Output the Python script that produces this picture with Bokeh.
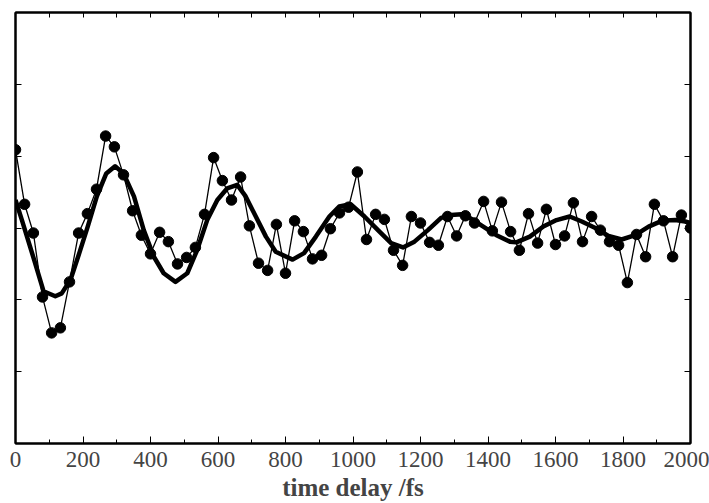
from bokeh.plotting import figure
from bokeh.models import LinearAxis, FixedTicker, Range1d
from bokeh.embed import file_html
from bokeh.resources import INLINE

# measured data points (time delay in fs, signal in arbitrary units)
t_data = [0, 27, 53, 80, 107, 133, 160, 187, 213, 240, 267, 293, 320, 347, 373, 400,
          427, 453, 480, 507, 533, 560, 587, 613, 640, 667, 693, 720, 747, 773, 800,
          827, 853, 880, 907, 933, 960, 987, 1013, 1040, 1067, 1093, 1120, 1147, 1173,
          1200, 1227, 1253, 1280, 1307, 1333, 1360, 1387, 1413, 1440, 1467, 1493, 1520,
          1547, 1573, 1600, 1627, 1653, 1680, 1707, 1733, 1760, 1787, 1813, 1840, 1867,
          1893, 1920, 1947, 1973, 2000]
s_data = [4.09, 3.33, 2.93, 2.04, 1.54, 1.61, 2.25, 2.93, 3.20, 3.54,
          4.28, 4.13, 3.74, 3.24, 2.90, 2.64, 2.94, 2.81, 2.50, 2.59,
          2.73, 3.19, 3.98, 3.66, 3.39, 3.71, 3.03, 2.51, 2.41, 3.05,
          2.37, 3.10, 2.95, 2.57, 2.62, 2.99, 3.21, 3.29, 3.78, 2.84,
          3.19, 3.12, 2.69, 2.48, 3.16, 3.07, 2.80, 2.76, 3.16, 2.89,
          3.17, 3.07, 3.37, 2.96, 3.36, 2.95, 2.69, 3.20, 2.79, 3.26,
          2.77, 2.89, 3.35, 2.81, 3.16, 2.97, 2.81, 2.76, 2.24, 2.91,
          2.60, 3.33, 3.10, 2.60, 3.18, 3.00]

# fitted curve
t_fit = [0, 19, 55, 83, 118, 137, 163, 189, 214, 241, 269, 295, 320, 351, 380, 410,
         439, 474, 509, 538, 568, 598, 627, 657, 682, 712, 742, 771, 821, 855, 890,
         930, 959, 993, 1034, 1074, 1113, 1148, 1182, 1222, 1261, 1291, 1321, 1346,
         1386, 1425, 1465, 1484, 1524, 1564, 1603, 1642, 1678, 1718, 1757, 1796, 1836,
         1876, 1915, 1955, 1984, 2000]
s_fit = [3.39, 3.11, 2.56, 2.12, 2.05, 2.09, 2.28, 2.65, 3.02, 3.44, 3.76, 3.86, 3.76,
         3.44, 2.97, 2.60, 2.37, 2.25, 2.37, 2.69, 3.11, 3.39, 3.55, 3.60, 3.44, 3.16,
         2.88, 2.67, 2.56, 2.65, 2.88, 3.16, 3.30, 3.33, 3.16, 2.97, 2.79, 2.73, 2.81,
         2.97, 3.14, 3.18, 3.19, 3.14, 3.02, 2.90, 2.81, 2.80, 2.88, 3.02, 3.11, 3.16,
         3.09, 3.00, 2.89, 2.84, 2.90, 3.02, 3.10, 3.11, 3.09, 3.07]

x_major = [0, 200, 400, 600, 800, 1000, 1200, 1400, 1600, 1800, 2000]
y_ticks = [0, 1, 2, 3, 4, 5, 6]
top_ticks = list(range(0, 2001, 100))

p = figure(width=709, height=503, output_backend="svg", toolbar_location=None,
           x_range=Range1d(0, 2000), y_range=Range1d(0, 6),
           x_axis_location=None, y_axis_location=None,
           min_border_left=15, min_border_right=19, min_border_top=12, min_border_bottom=59)
p.grid.visible = False
p.outline_line_color = "black"
p.outline_line_width = 2
p.background_fill_color = "white"
p.border_fill_color = "white"

serif = "Liberation Serif"

bottom = LinearAxis(ticker=FixedTicker(ticks=x_major, minor_ticks=top_ticks))
bottom.axis_label = "time delay /fs"
bottom.axis_label_text_font = serif
bottom.axis_label_text_font_style = "bold"
bottom.axis_label_text_font_size = "25px"
bottom.axis_label_standoff = 4
bottom.major_label_text_font = serif
bottom.major_label_text_font_size = "23px"
bottom.major_label_standoff = 8
bottom.major_tick_in = 7
bottom.major_tick_out = 0
bottom.minor_tick_in = 4
bottom.minor_tick_out = 0
bottom.axis_line_width = 2
p.add_layout(bottom, "below")

top = LinearAxis(ticker=FixedTicker(ticks=top_ticks))
top.major_label_text_font_size = "0px"
top.major_label_text_color = None
top.major_tick_in = 5
top.major_tick_out = 0
top.minor_tick_line_color = None
top.axis_line_width = 2
p.add_layout(top, "above")

for loc in ("left", "right"):
    ax = LinearAxis(ticker=FixedTicker(ticks=y_ticks))
    ax.major_label_text_font_size = "0px"
    ax.major_label_text_color = None
    ax.major_tick_in = 6
    ax.major_tick_out = 0
    ax.minor_tick_line_color = None
    ax.axis_line_width = 2
    p.add_layout(ax, loc)

p.line(t_data, s_data, line_color="black", line_width=1.3)
p.scatter(t_data, s_data, size=10.5, fill_color="black", line_color="black")
p.line(t_fit, s_fit, line_color="black", line_width=4.5, line_join="round")

open("out.html", "w").write(file_html(p, INLINE))
